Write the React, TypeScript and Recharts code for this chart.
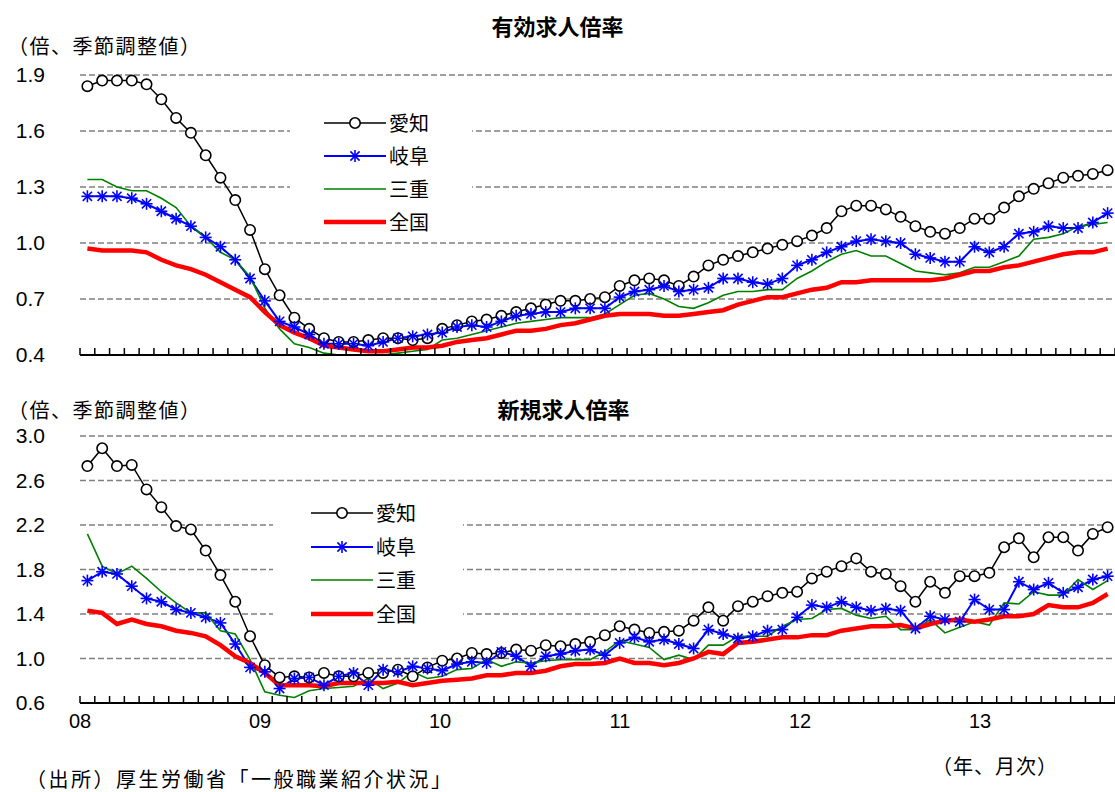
import React from "react";
import { LineChart, Line, XAxis, YAxis, CartesianGrid, Legend } from "recharts";

// 2008-01 .. 2013-10, monthly
const yearLabels = ["08", "09", "10", "11", "12", "13"];
const months = Array.from({ length: 70 }, (_, i) => `${yearLabels[Math.floor(i / 12)]}/${(i % 12) + 1}`);
const yearTicks = yearLabels.map((_, k) => k * 12);
const monthEdges = Array.from({ length: 71 }, (_, k) => k - 0.5);

// 有効求人倍率
const aichiEffective = [
  1.84, 1.87, 1.87, 1.87, 1.85, 1.77, 1.67, 1.59, 1.47, 1.35, 1.23, 1.07, 0.86, 0.72, 0.60, 0.54, 0.49, 0.47, 0.47, 0.48,
  0.49, 0.49, 0.48, 0.49, 0.54, 0.56, 0.58, 0.59, 0.61, 0.63, 0.65, 0.67, 0.69, 0.69, 0.70, 0.71, 0.77, 0.80, 0.81,
  0.80, 0.77, 0.82, 0.88, 0.91, 0.93, 0.95, 0.97, 0.99, 1.01, 1.04, 1.08, 1.17, 1.20, 1.20,
  1.18, 1.14, 1.09, 1.06, 1.05, 1.08, 1.13, 1.13, 1.19, 1.25, 1.29, 1.32, 1.35, 1.36, 1.37, 1.39,
];
const gifuEffective = [
  1.25, 1.25, 1.25, 1.24, 1.21, 1.17, 1.13, 1.09, 1.03, 0.98, 0.91, 0.81, 0.69, 0.58, 0.55, 0.51, 0.46, 0.46, 0.46, 0.45,
  0.47, 0.49, 0.50, 0.51, 0.52, 0.55, 0.56, 0.55, 0.58, 0.61, 0.62, 0.63, 0.63, 0.65, 0.65, 0.65, 0.71, 0.74, 0.75,
  0.77, 0.74, 0.75, 0.76, 0.81, 0.81, 0.79, 0.78, 0.81, 0.88, 0.91, 0.95, 0.98, 1.01, 1.02,
  1.01, 1.00, 0.94, 0.92, 0.90, 0.90, 0.98, 0.95, 0.98, 1.05, 1.06, 1.09, 1.08, 1.08, 1.11, 1.16,
];
const mieEffective = [
  1.34, 1.34, 1.30, 1.28, 1.28, 1.24, 1.19, 1.09, 1.03, 0.95, 0.91, 0.82, 0.65, 0.54, 0.46, 0.44, 0.41, 0.40, 0.40, 0.40,
  0.40, 0.41, 0.42, 0.43, 0.48, 0.49, 0.51, 0.53, 0.55, 0.57, 0.58, 0.59, 0.60, 0.60, 0.60, 0.62, 0.67, 0.72, 0.73,
  0.70, 0.66, 0.65, 0.68, 0.72, 0.74, 0.74, 0.75, 0.75, 0.81, 0.85, 0.90, 0.94, 0.96, 0.93,
  0.93, 0.89, 0.85, 0.84, 0.83, 0.84, 0.87, 0.87, 0.90, 0.93, 1.02, 1.03, 1.05, 1.09, 1.10, 1.11,
];
const nationalEffective = [
  0.97, 0.96, 0.96, 0.96, 0.95, 0.91, 0.88, 0.86, 0.83, 0.79, 0.75, 0.71, 0.63, 0.56, 0.52, 0.49, 0.45, 0.44, 0.43, 0.42,
  0.42, 0.43, 0.44, 0.44, 0.45, 0.47, 0.48, 0.49, 0.51, 0.53, 0.53, 0.54, 0.56, 0.57, 0.59, 0.61, 0.62, 0.62, 0.62,
  0.61, 0.61, 0.62, 0.63, 0.64, 0.67, 0.69, 0.71, 0.71, 0.73, 0.75, 0.76, 0.79, 0.79, 0.80,
  0.80, 0.80, 0.80, 0.80, 0.81, 0.83, 0.85, 0.85, 0.87, 0.88, 0.90, 0.92, 0.94, 0.95, 0.95, 0.97,
];

// 新規求人倍率
const aichiNew = [
  2.73, 2.89, 2.73, 2.74, 2.52, 2.36, 2.19, 2.16, 1.97, 1.75, 1.51, 1.20, 0.94, 0.83, 0.84, 0.83, 0.87, 0.84, 0.84, 0.87,
  0.87, 0.90, 0.84, 0.92, 0.98, 1.00, 1.05, 1.04, 1.05, 1.08, 1.07, 1.12, 1.11, 1.13, 1.15, 1.21, 1.29, 1.26, 1.23,
  1.24, 1.25, 1.34, 1.46, 1.34, 1.47, 1.51, 1.56, 1.59, 1.60, 1.72, 1.78, 1.83, 1.90, 1.78,
  1.76, 1.65, 1.51, 1.69, 1.59, 1.74, 1.74, 1.77, 2.00, 2.08, 1.91, 2.09, 2.09, 1.97, 2.12, 2.18,
];
const gifuNew = [
  1.70, 1.78, 1.76, 1.65, 1.54, 1.51, 1.44, 1.41, 1.37, 1.32, 1.13, 0.92, 0.88, 0.73, 0.82, 0.83, 0.76, 0.84, 0.87, 0.76,
  0.90, 0.88, 0.93, 0.91, 0.89, 0.95, 0.97, 0.96, 1.06, 1.02, 0.93, 1.02, 1.04, 1.07, 1.08, 1.03, 1.14, 1.19, 1.15,
  1.17, 1.13, 1.09, 1.26, 1.22, 1.18, 1.20, 1.25, 1.26, 1.37, 1.48, 1.46, 1.51, 1.46, 1.43,
  1.45, 1.43, 1.27, 1.38, 1.35, 1.33, 1.53, 1.44, 1.44, 1.69, 1.62, 1.68, 1.59, 1.64, 1.71, 1.74,
];
const mieNew = [
  2.12, 1.83, 1.76, 1.83, 1.72, 1.60, 1.50, 1.41, 1.41, 1.25, 1.22, 0.99, 0.70, 0.67, 0.65, 0.71, 0.73, 0.74, 0.75, 0.82,
  0.73, 0.78, 0.88, 0.82, 0.84, 0.90, 0.91, 0.99, 0.93, 0.97, 0.96, 0.98, 0.99, 0.99, 0.99, 1.06, 1.16, 1.13, 1.10,
  0.99, 1.03, 0.99, 1.12, 1.12, 1.20, 1.20, 1.20, 1.29, 1.35, 1.36, 1.44, 1.45, 1.39, 1.36,
  1.38, 1.26, 1.26, 1.35, 1.23, 1.28, 1.33, 1.30, 1.50, 1.49, 1.60, 1.57, 1.57, 1.71, 1.62, 1.70,
];
const nationalNew = [
  1.43, 1.41, 1.31, 1.35, 1.31, 1.29, 1.25, 1.23, 1.20, 1.12, 1.02, 0.96, 0.87, 0.76, 0.76, 0.76, 0.75, 0.78, 0.78, 0.78,
  0.78, 0.79, 0.76, 0.78, 0.80, 0.81, 0.82, 0.85, 0.85, 0.87, 0.87, 0.89, 0.93, 0.95, 0.95, 0.96, 1.00, 0.96, 0.96,
  0.94, 0.96, 1.00, 1.06, 1.04, 1.14, 1.15, 1.17, 1.19, 1.19, 1.21, 1.21, 1.25, 1.27, 1.29,
  1.29, 1.30, 1.27, 1.31, 1.34, 1.35, 1.33, 1.35, 1.38, 1.38, 1.40, 1.48, 1.46, 1.46, 1.50, 1.58,
];

const effectiveTicks = [0.4, 0.7, 1.0, 1.3, 1.6, 1.9];
const newTicks = [0.6, 1.0, 1.4, 1.8, 2.2, 2.6, 3.0];

const effectiveData = months.map((m, i) => ({
  idx: i, month: m,
  aichi: aichiEffective[i], gifu: gifuEffective[i], mie: mieEffective[i], national: nationalEffective[i],
}));
const newData = months.map((m, i) => ({
  idx: i, month: m,
  aichi: aichiNew[i], gifu: gifuNew[i], mie: mieNew[i], national: nationalNew[i],
}));

const NUM_FONT = '"Liberation Sans", Arial, sans-serif';
const JP_FONT = '"Noto Sans CJK JP", "Noto Sans", sans-serif';

const SERIES = [
  { key: "aichi", name: "愛知", color: "#000000", width: 1.5, marker: "circle" },
  { key: "gifu", name: "岐阜", color: "#0000FF", width: 2, marker: "star" },
  { key: "mie", name: "三重", color: "#008000", width: 1.6, marker: "none" },
  { key: "national", name: "全国", color: "#FF0000", width: 4.5, marker: "none" },
];

function circleShape(cx: number, cy: number, key?: string) {
  return <circle key={key} cx={cx} cy={cy} r={5.2} fill="#fff" stroke="#000" strokeWidth={1.6} />;
}

function starShape(cx: number, cy: number, key?: string) {
  const s = 6;
  const d = 4.6;
  return (
    <g key={key} stroke="#0000FF" strokeWidth={1.6}>
      <line x1={cx} y1={cy - s} x2={cx} y2={cy + s} />
      <line x1={cx - s} y1={cy} x2={cx + s} y2={cy} />
      <line x1={cx - d} y1={cy - d} x2={cx + d} y2={cy + d} />
      <line x1={cx - d} y1={cy + d} x2={cx + d} y2={cy - d} />
    </g>
  );
}

const CircleDot = (props: any) => {
  if (props.cx == null || props.cy == null) return <g key={`c${props.index}`} />;
  return circleShape(props.cx, props.cy, `c${props.index}`);
};
const StarDot = (props: any) => {
  if (props.cx == null || props.cy == null) return <g key={`s${props.index}`} />;
  return starShape(props.cx, props.cy, `s${props.index}`);
};

// monthly tick marks pointing up into the plot
const MonthTick = (props: any) => {
  const x = props.x;
  const y = props.y;
  return <line x1={x} x2={x} y1={y} y2={y - 7} stroke="#000" strokeWidth={1.5} />;
};

function LegendBox({ padLeft, padTop, rowH }: { padLeft: number; padTop: number; rowH: number }) {
  return (
    <div style={{ background: "#fff", paddingLeft: padLeft, paddingTop: padTop, paddingBottom: 2 }}>
      {SERIES.map((s) => (
        <div key={s.key} style={{ display: "flex", alignItems: "center", height: rowH }}>
          <svg width={62} height={20} style={{ display: "block" }}>
            <line x1={0} x2={62} y1={10} y2={10} stroke={s.color} strokeWidth={s.width} />
            {s.marker === "circle" && circleShape(31, 10)}
            {s.marker === "star" && starShape(31, 10)}
          </svg>
          <span style={{ fontFamily: JP_FONT, fontSize: 20, marginLeft: 3, color: "#000", lineHeight: "20px" }}>
            {s.name}
          </span>
        </div>
      ))}
    </div>
  );
}

function Panel({
  data, domain, ticks, height, margin, showYears, legendPos,
}: {
  data: any[]; domain: [number, number]; ticks: number[]; height: number;
  margin: { top: number; right: number; bottom: number; left: number };
  showYears: boolean;
  legendPos: { left: number; top: number; width: number; padLeft: number; padTop: number; rowH: number };
}) {
  return (
    <LineChart width={1115} height={height} data={data} margin={margin}>
      <CartesianGrid horizontal vertical={false} stroke="#808080" strokeWidth={1.5} strokeDasharray="6 3" />
      <XAxis
        xAxisId="m"
        dataKey="idx"
        type="number"
        domain={[-0.5, 69.5]}
        ticks={monthEdges}
        interval={0}
        tick={MonthTick}
        tickSize={0}
        tickMargin={0}
        height={1}
        axisLine={{ stroke: "#000", strokeWidth: 2 }}
        tickLine={false}
      />
      {showYears && (
        <XAxis
          xAxisId="y"
          type="number"
          domain={[-0.5, 69.5]}
          ticks={yearTicks}
          interval={0}
          tickFormatter={(v: number) => yearLabels[v / 12]}
          axisLine={false}
          tickLine={false}
          tickSize={0}
          tickMargin={10}
          height={40}
          tick={{ fill: "#000", fontSize: 20, fontFamily: NUM_FONT }}
        />
      )}
      <YAxis
        type="number"
        domain={domain}
        ticks={ticks}
        interval={0}
        width={80}
        axisLine={false}
        tickLine={false}
        tickSize={0}
        tickMargin={35}
        tickFormatter={(v: number) => v.toFixed(1)}
        tick={{ fill: "#000", fontSize: 21, fontFamily: NUM_FONT }}
      />
      <Legend
        layout="vertical"
        align="center"
        verticalAlign="middle"
        wrapperStyle={{ left: legendPos.left, top: legendPos.top, width: legendPos.width }}
        content={() => <LegendBox padLeft={legendPos.padLeft} padTop={legendPos.padTop} rowH={legendPos.rowH} />}
      />
      {SERIES.map((s) => (
        <Line
          key={s.key}
          xAxisId="m"
          type="linear"
          dataKey={s.key}
          name={s.name}
          stroke={s.color}
          strokeWidth={s.width}
          dot={s.marker === "circle" ? CircleDot : s.marker === "star" ? StarDot : false}
          activeDot={false}
          isAnimationActive={false}
        />
      ))}
    </LineChart>
  );
}

const textBase: React.CSSProperties = { position: "absolute", fontFamily: JP_FONT, color: "#000", whiteSpace: "nowrap" };

export default function App() {
  return (
    <div style={{ position: "absolute", left: 0, top: 0, width: 1115, height: 792, background: "#fff", overflow: "hidden" }}>
      <div style={{ position: "absolute", left: 0, top: 0 }}>
        <Panel
          data={effectiveData}
          domain={[0.4, 1.9]}
          ticks={effectiveTicks}
          height={365}
          margin={{ top: 75, right: 0, bottom: 9, left: 0 }}
          showYears={false}
          legendPos={{ left: 290, top: 100, width: 182, padLeft: 34, padTop: 6, rowH: 33 }}
        />
      </div>
      <div style={{ position: "absolute", left: 0, top: 380 }}>
        <Panel
          data={newData}
          domain={[0.6, 3.0]}
          ticks={newTicks}
          height={412}
          margin={{ top: 56, right: 0, bottom: 48, left: 0 }}
          showYears={true}
          legendPos={{ left: 273, top: 113, width: 190, padLeft: 38, padTop: 3, rowH: 33.7 }}
        />
      </div>

      <div style={{ ...textBase, left: 0, width: 1115, top: 12, textAlign: "center", fontSize: 22, fontWeight: 700, lineHeight: "26px" }}>
        有効求人倍率
      </div>
      <div style={{ ...textBase, left: 8, top: 34, fontSize: 20, lineHeight: "24px", letterSpacing: 1.5 }}>
        （倍、季節調整値）
      </div>
      <div style={{ ...textBase, left: 6, width: 1115, top: 395, textAlign: "center", fontSize: 22, fontWeight: 700, lineHeight: "26px" }}>
        新規求人倍率
      </div>
      <div style={{ ...textBase, left: 8, top: 398, fontSize: 20, lineHeight: "24px", letterSpacing: 1.5 }}>
        （倍、季節調整値）
      </div>
      <div style={{ ...textBase, left: 932, top: 754, fontSize: 20, lineHeight: "24px", letterSpacing: 1 }}>
        （年、月次）
      </div>
      <div style={{ ...textBase, left: 26, top: 767, fontSize: 20, lineHeight: "24px", letterSpacing: 2.5 }}>
        （出所）厚生労働省「一般職業紹介状況」
      </div>
    </div>
  );
}
